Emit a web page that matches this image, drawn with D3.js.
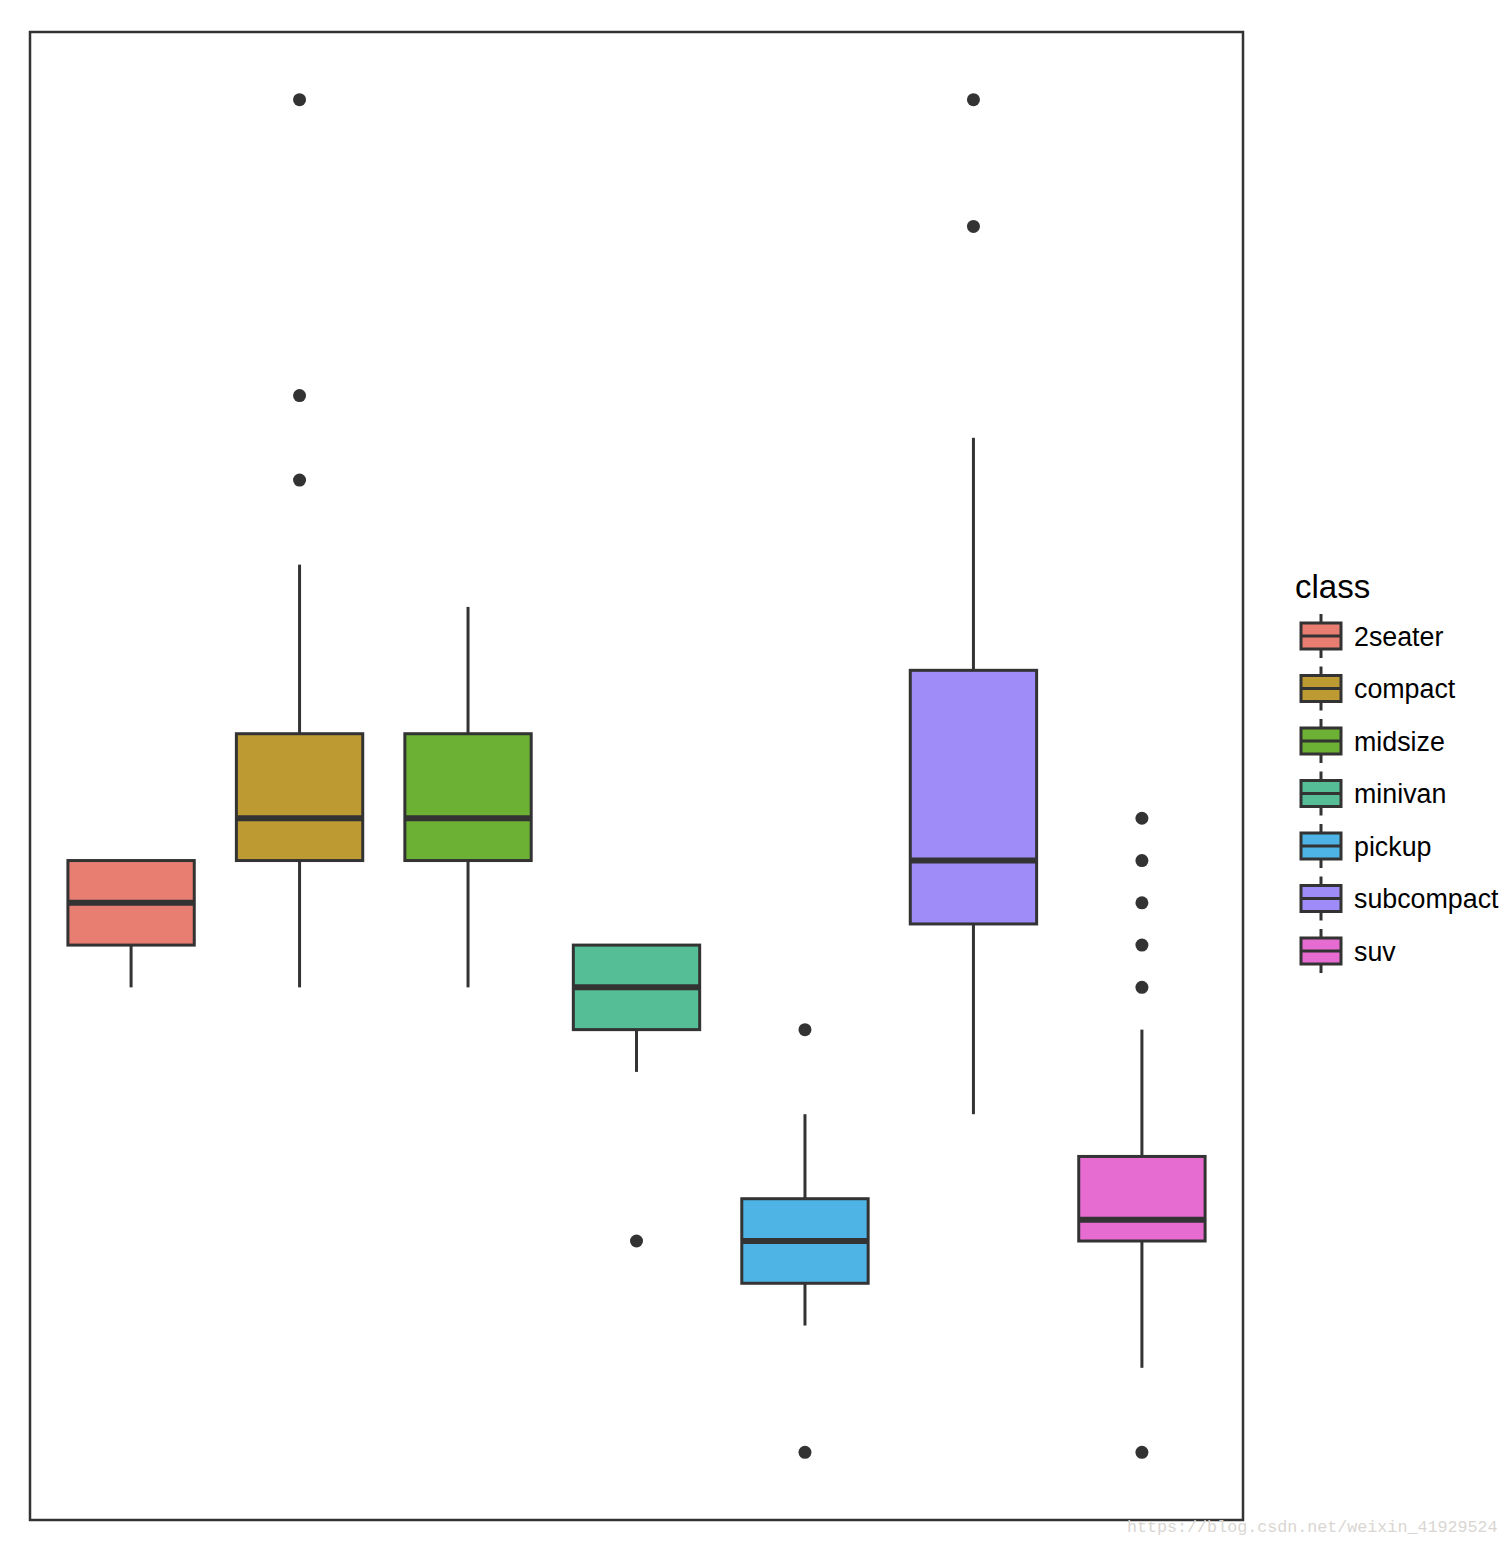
<!DOCTYPE html>
<html><head><meta charset="utf-8">
<script src="https://cdn.jsdelivr.net/npm/d3@7"></script>
<style>body{margin:0;background:#fff}svg{display:block}</style>
</head><body>
<script>
const categories = ["2seater","compact","midsize","minivan","pickup","subcompact","suv"];
const colors = ["#E87D72","#BE9A33","#6CB133","#55BE96","#4EB4E5","#A08CF8","#E66CD2"];
const lowerWhisker = [23,23,23,21,15,20,14];
const q1 = [24,26,26,22,16,24.5,17];
const median = [25,27,27,23,17,26,17.5];
const q3 = [26,29,29,24,18,30.5,19];
const upperWhisker = [26,33,32,24,20,36,22];
const outliers = [[],[35,37,44],[],[17],[22,12],[41,44],[23,24,25,26,27,12]];
const legendTitle = "class";
const watermark = "https://blog.csdn.net/weixin_41929524";

const W=1508,H=1546;
const svg=d3.select("body").append("svg").attr("width",W).attr("height",H);
const P={l:30,r:1243,t:32,b:1520};
const ymin=12,ymax=44,pad=(ymax-ymin)*0.05;
const y=d3.scaleLinear().domain([ymin-pad,ymax+pad]).range([P.b,P.t]);
const xi=d3.scaleLinear().domain([0.4,categories.length+0.6]).range([P.l,P.r]);
const half=(xi(1.375)-xi(1));
const ink="#333333";

const g=svg.append("g");
categories.forEach((c,i)=>{
  const cx=xi(i+1);
  g.append("line").attr("x1",cx).attr("x2",cx).attr("y1",y(q3[i])).attr("y2",y(upperWhisker[i])).attr("stroke",ink).attr("stroke-width",3);
  g.append("line").attr("x1",cx).attr("x2",cx).attr("y1",y(q1[i])).attr("y2",y(lowerWhisker[i])).attr("stroke",ink).attr("stroke-width",3);
  g.append("rect").attr("x",cx-half).attr("width",2*half).attr("y",y(q3[i])).attr("height",y(q1[i])-y(q3[i]))
    .attr("fill",colors[i]).attr("stroke",ink).attr("stroke-width",3);
  g.append("line").attr("x1",cx-half).attr("x2",cx+half).attr("y1",y(median[i])).attr("y2",y(median[i])).attr("stroke",ink).attr("stroke-width",6);
  outliers[i].forEach(v=>g.append("circle").attr("cx",cx).attr("cy",y(v)).attr("r",6.5).attr("fill",ink));
});
svg.append("rect").attr("x",P.l).attr("y",P.t).attr("width",P.r-P.l).attr("height",P.b-P.t)
  .attr("fill","none").attr("stroke",ink).attr("stroke-width",2.5);

// legend
const lg=svg.append("g");
lg.append("text").attr("x",1295).attr("y",598).text(legendTitle)
  .attr("font-family","Liberation Sans, Arial, sans-serif").attr("font-size",33).attr("fill","#000");
const ly=d3.scaleLinear().domain([0,1]).range([636,688.5]);
categories.forEach((c,i)=>{
  const cy=ly(i), kx=1321;
  lg.append("line").attr("x1",kx).attr("x2",kx).attr("y1",cy-22).attr("y2",cy+22).attr("stroke",ink).attr("stroke-width",3);
  lg.append("rect").attr("x",kx-20).attr("y",cy-13).attr("width",40).attr("height",26).attr("fill",colors[i]).attr("stroke",ink).attr("stroke-width",3);
  lg.append("line").attr("x1",kx-20).attr("x2",kx+20).attr("y1",cy).attr("y2",cy).attr("stroke",ink).attr("stroke-width",3);
  lg.append("text").attr("x",1354).attr("y",cy+9.5).text(c)
    .attr("font-family","Liberation Sans, Arial, sans-serif").attr("font-size",26.8).attr("fill","#000");
});
svg.append("text").attr("x",1127).attr("y",1532).text(watermark)
  .attr("font-family","Liberation Mono, monospace").attr("font-size",16.7).attr("fill","#d9d6d2");
</script>
</body></html>
